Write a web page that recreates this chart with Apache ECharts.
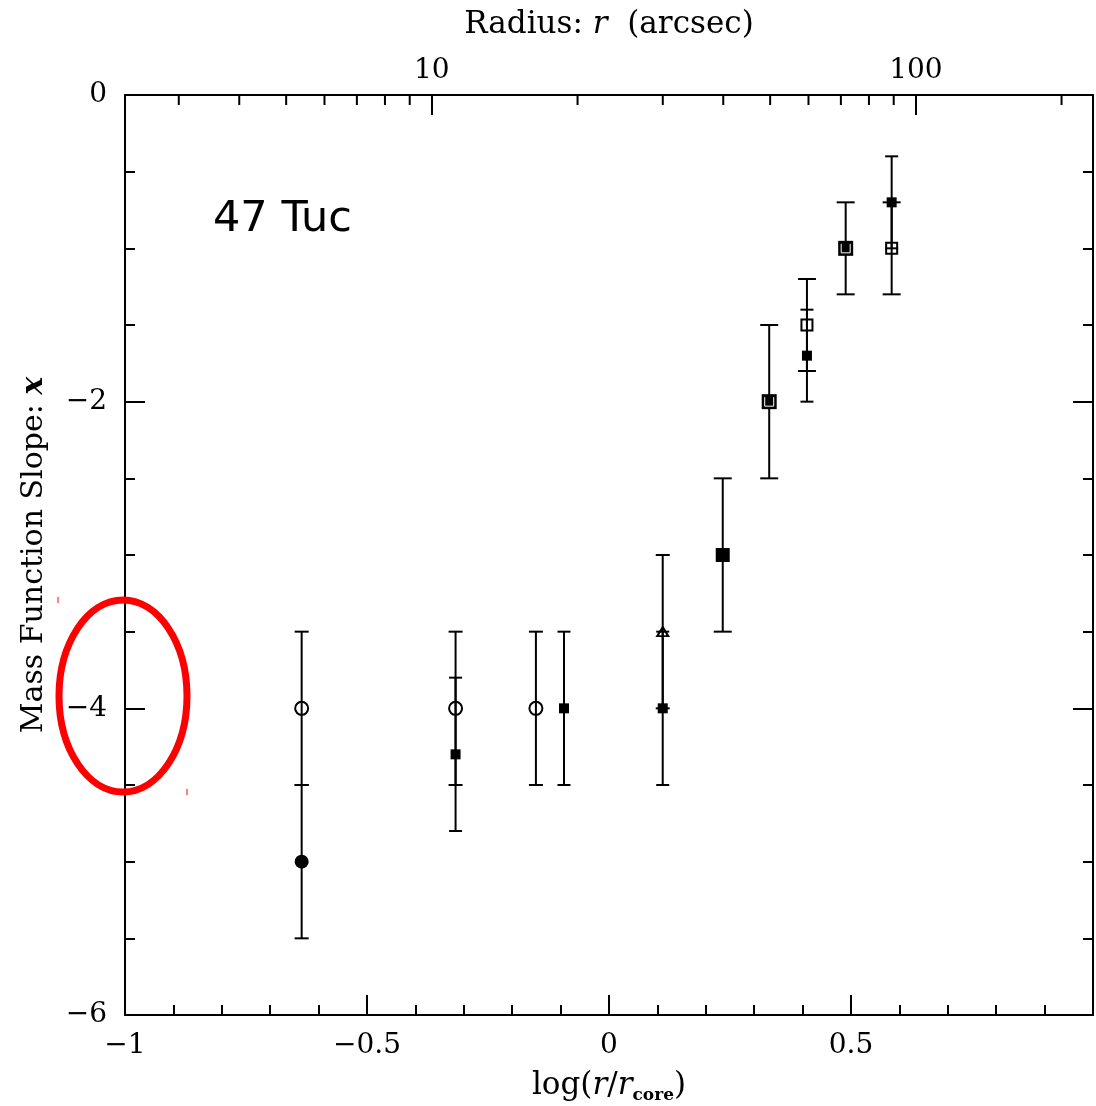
<!DOCTYPE html>
<html>
<head>
<meta charset="utf-8">
<script src="https://cdn.jsdelivr.net/npm/echarts@6/dist/echarts.min.js"></script>
<style>
  html, body { margin: 0; padding: 0; background: #fff; }
  #chart { width: 1096px; height: 1106px; }
</style>
</head>
<body>
<div id="chart"></div>
<script>
// log10 of the core radius in arcsec (links the top radius axis to log(r/rcore))
const logRcore = 1.366;

// axis ticks
const xTicks = [-1, -0.5, 0, 0.5, 1];
const yTicks = [-6, -4, -2, 0];
const radiusLabels = [10, 100];
const radiusMinor = [3, 4, 5, 6, 7, 8, 9, 20, 30, 40, 50, 60, 70, 80, 90, 200];

// data: log(r/rcore), slope x, error
const openCircleX = [-0.635, -0.317, -0.151];
const openCircleY = [-4, -4, -4];
const openCircleErr = [0.5, 0.5, 0.5];

const filledCircleX = [-0.635];
const filledCircleY = [-5];
const filledCircleErr = [0.5];

const smallSquareX = [-0.317, -0.093, 0.111, 0.409, 0.584];
const smallSquareY = [-4.3, -4, -4, -1.7, -0.7];
const smallSquareErr = [0.5, 0.5, 0.5, 0.3, 0.3];

const triangleX = [0.111];
const triangleY = [-3.5];
const triangleErr = [0.5];

const bigSquareX = [0.235];
const bigSquareY = [-3.0];
const bigSquareErr = [0.5];

const outlinedSquareX = [0.331, 0.489];
const outlinedSquareY = [-2.0, -1.0];
const outlinedSquareErr = [0.5, 0.3];

const openSquareX = [0.409];
const openSquareY = [-1.5];
const openSquareErr = [0.3];

const crossSquareX = [0.584];
const crossSquareY = [-1.0];
const crossSquareErr = [0.3];

const zip = (xs, ys, es) => xs.map((x, i) => es ? [x, ys[i], es[i]] : [x, ys[i]]);
const minus = v => String(v).replace('-', '\u2212');
const toPos = r => Math.log10(r) - logRcore;

const serif = '"DejaVu Serif", serif';
const black = '#000';
const axisLine = { onZero: false, lineStyle: { color: black, width: 2 } };
const tickStyle = { color: black, width: 2 };

// error bar drawn with the axis scales
const errorBars = (xs, ys, es, cap) => ({
    type: 'custom',
    data: zip(xs, ys, es),
    encode: { x: 0, y: 1 },
    z: 2,
    silent: true,
    renderItem: (params, api) => {
        const x = api.value(0), y = api.value(1), e = api.value(2);
        const top = api.coord([x, y + e]);
        const bot = api.coord([x, y - e]);
        const h = cap / 2;
        const st = { stroke: black, lineWidth: 2 };
        return {
            type: 'group',
            children: [
                { type: 'line', shape: { x1: top[0], y1: top[1], x2: bot[0], y2: bot[1] }, style: st },
                { type: 'line', shape: { x1: top[0] - h, y1: top[1], x2: top[0] + h, y2: top[1] }, style: st },
                { type: 'line', shape: { x1: bot[0] - h, y1: bot[1], x2: bot[0] + h, y2: bot[1] }, style: st }
            ]
        };
    }
});

// short ticks of the logarithmic radius axis, hanging from the top frame
const radiusMinorTicks = {
    type: 'custom',
    data: radiusMinor.map(r => [toPos(r), yTicks[yTicks.length - 1]]),
    encode: { x: 0, y: 1 },
    z: 3,
    silent: true,
    clip: false,
    renderItem: (params, api) => {
        const p = api.coord([api.value(0), api.value(1)]);
        return {
            type: 'line',
            shape: { x1: p[0], y1: p[1], x2: p[0], y2: p[1] + 10 },
            style: { stroke: black, lineWidth: 2 }
        };
    }
};

const markers = (xs, ys, symbol, size, style, z) => ({
    type: 'scatter',
    data: zip(xs, ys),
    symbol: symbol,
    symbolSize: size,
    itemStyle: Object.assign({ opacity: 1 }, style),
    z: z || 5,
    silent: true
});

const open = { color: 'rgba(0,0,0,0)', borderColor: black, borderWidth: 2 };
const filled = { color: black };

const chart = echarts.init(document.getElementById('chart'));
chart.setOption({
    animation: false,
    backgroundColor: '#fff',
    grid: { left: 125, right: 3, top: 95, bottom: 91, outerBoundsMode: 'none', containLabel: false },
    xAxis: [{
        type: 'value',
        position: 'bottom',
        min: xTicks[0],
        max: xTicks[xTicks.length - 1],
        interval: 0.5,
        name: '{n|log(}{i|r}{n|/}{i|r}{s|core}{n|)}',
        nameLocation: 'middle',
        nameGap: 52,
        nameTextStyle: {
            rich: {
                n: { fontFamily: serif, fontSize: 31, color: black },
                i: { fontFamily: serif, fontSize: 31, fontStyle: 'italic', color: black },
                s: { fontFamily: serif, fontSize: 17, fontWeight: 'bold', color: black, padding: [20, 0, 0, 0] }
            }
        },
        axisLine: axisLine,
        axisTick: { inside: true, length: 20, lineStyle: tickStyle },
        minorTick: { show: true, splitNumber: 5, length: 10, lineStyle: tickStyle },
        axisLabel: {
            margin: 17, fontFamily: serif, fontSize: 28, color: black,
            showMaxLabel: false, formatter: minus
        },
        splitLine: { show: false }
    }, {
        type: 'value',
        position: 'top',
        min: xTicks[0],
        max: xTicks[xTicks.length - 1],
        name: '{n|Radius: }{i|r}{n|  (arcsec)}',
        nameLocation: 'middle',
        nameGap: 55,
        nameTextStyle: {
            rich: {
                n: { fontFamily: serif, fontSize: 31, color: black },
                i: { fontFamily: serif, fontSize: 31, fontStyle: 'italic', color: black }
            }
        },
        axisLine: axisLine,
        axisTick: { inside: true, length: 20, customValues: radiusLabels.map(toPos), lineStyle: tickStyle },
        axisLabel: {
            margin: 10, fontFamily: serif, fontSize: 28, color: black,
            customValues: radiusLabels.map(toPos),
            formatter: v => String(Math.round(Math.pow(10, v + logRcore)))
        },
        splitLine: { show: false }
    }],
    yAxis: [{
        type: 'value',
        position: 'left',
        min: yTicks[0],
        max: yTicks[yTicks.length - 1],
        interval: 2,
        name: '{n|Mass Function Slope: }{i|x}',
        nameLocation: 'middle',
        nameGap: 76,
        nameTextStyle: {
            rich: {
                n: { fontFamily: serif, fontSize: 30, color: black },
                i: { fontFamily: serif, fontSize: 30, fontStyle: 'italic', fontWeight: 'bold', color: black }
            }
        },
        axisLine: axisLine,
        axisTick: { inside: true, length: 20, lineStyle: tickStyle },
        minorTick: { show: true, splitNumber: 4, length: 10, lineStyle: tickStyle },
        axisLabel: {
            margin: 18, fontFamily: serif, fontSize: 28, color: black,
            padding: [6, 0, 0, 0], formatter: minus
        },
        splitLine: { show: false }
    }, {
        type: 'value',
        position: 'right',
        min: yTicks[0],
        max: yTicks[yTicks.length - 1],
        interval: 2,
        axisLine: axisLine,
        axisTick: { inside: true, length: 20, lineStyle: tickStyle },
        minorTick: { show: true, splitNumber: 4, length: 10, lineStyle: tickStyle },
        axisLabel: { show: false },
        splitLine: { show: false }
    }],
    series: [
        radiusMinorTicks,
        errorBars(openCircleX, openCircleY, openCircleErr, 14),
        errorBars(filledCircleX, filledCircleY, filledCircleErr, 14),
        errorBars(smallSquareX, smallSquareY, smallSquareErr, 13),
        errorBars(triangleX, triangleY, triangleErr, 14),
        errorBars(bigSquareX, bigSquareY, bigSquareErr, 18),
        errorBars(outlinedSquareX, outlinedSquareY, outlinedSquareErr, 18),
        errorBars(openSquareX, openSquareY, openSquareErr, 18),
        errorBars(crossSquareX, crossSquareY, crossSquareErr, 18),
        markers(openCircleX, openCircleY, 'circle', 13, open),
        markers(filledCircleX, filledCircleY, 'circle', 14, filled),
        markers(smallSquareX, smallSquareY, 'rect', 10, filled),
        markers(triangleX, triangleY, 'triangle', [11, 9], open),
        markers(bigSquareX, bigSquareY, 'rect', 14, filled),
        markers(outlinedSquareX, outlinedSquareY, 'rect', 15, filled),
        markers(outlinedSquareX, outlinedSquareY, 'path://M0,0L0,10L10,10L10,0', 9,
            { color: 'rgba(0,0,0,0)', borderColor: '#fff', borderWidth: 1 }, 6),
        markers(openSquareX, openSquareY, 'rect', 11, open),
        markers(crossSquareX, crossSquareY, 'rect', 11, open)
    ],
    graphic: [{
        type: 'text',
        left: 213,
        top: 198,
        style: { text: '47 Tuc', fontFamily: '"DejaVu Sans", sans-serif', fontSize: 43, fill: black }
    }, {
        type: 'ellipse',
        shape: { cx: 123, cy: 696, rx: 64, ry: 96 },
        style: { fill: 'none', stroke: '#f00', lineWidth: 7 },
        z: 100
    }, {
        type: 'line',
        shape: { x1: 58, y1: 597, x2: 58, y2: 603 },
        style: { stroke: '#f00', lineWidth: 1 },
        z: 100
    }, {
        type: 'line',
        shape: { x1: 187, y1: 789, x2: 187, y2: 795 },
        style: { stroke: '#f00', lineWidth: 1 },
        z: 100
    }]
});
window.addEventListener('resize', () => chart.resize());
</script>
</body>
</html>
